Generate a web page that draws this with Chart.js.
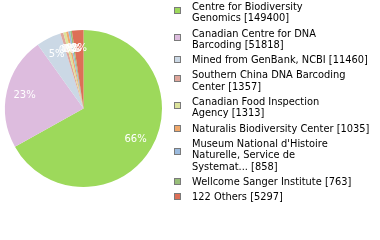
<!DOCTYPE html>
<html>
<head>
<meta charset="utf-8">
<script src="https://cdn.jsdelivr.net/npm/chart.js@4.4.1/dist/chart.umd.min.js"></script>
<style>
  html, body { margin: 0; padding: 0; background: #fff; }
  #wrap { position: relative; width: 380px; height: 240px; }
  #legend { position: absolute; left: 174px; top: 1px; margin: 0; padding: 0; list-style: none;
            font: 9.85px "DejaVu Sans", sans-serif; color: #000; }
  #legend li { display: flex; align-items: flex-start; margin-bottom: 4px; line-height: 11.3px; white-space: nowrap; }
  #legend .box { width: 7px; height: 7px; box-sizing: border-box; border: 1px solid #7a7a7a; margin-right: 11px; flex: none; }
</style>
</head>
<body>
<div id="wrap">
  <canvas id="pieChart" width="380" height="240"></canvas>
  <ul id="legend"></ul>
</div>
<script>
// legend text, already wrapped the way the picture shows it
const labels = [
    ['Centre for Biodiversity', 'Genomics'],
    ['Canadian Centre for DNA', 'Barcoding'],
    ['Mined from GenBank, NCBI'],
    ['Southern China DNA Barcoding', 'Center'],
    ['Canadian Food Inspection', 'Agency'],
    ['Naturalis Biodiversity Center'],
    ['Museum National d\'Histoire', 'Naturelle, Service de', 'Systemat...'],
    ['Wellcome Sanger Institute'],
    ['122 Others']
];
const counts = [149400, 51818, 11460, 1357, 1313, 1035, 858, 763, 5297];
const colors = ['#9dd95b', '#ddbcde', '#cbd8e5', '#dfa69b', '#dce39c', '#f0a86b', '#9bbadd', '#98be79', '#dd6f57'];

const total = counts.reduce((a, b) => a + b, 0);

// white percentage text inside each slice
const pctLabels = {
    id: 'pctLabels',
    afterDatasetsDraw(chart) {
        const ctx = chart.ctx;
        const meta = chart.getDatasetMeta(0);
        ctx.save();
        ctx.fillStyle = '#fff';
        ctx.font = '10px "DejaVu Sans", sans-serif';
        ctx.textAlign = 'center';
        ctx.textBaseline = 'middle';
        meta.data.forEach((arc, i) => {
            const p = arc.getProps(['x', 'y', 'startAngle', 'endAngle', 'outerRadius'], true);
            const mid = (p.startAngle + p.endAngle) / 2;
            const r = p.outerRadius * 0.77;
            const pct = Math.floor(counts[i] / total * 100);
            ctx.fillText(pct + '%', p.x + Math.cos(mid) * r, p.y + Math.sin(mid) * r);
        });
        ctx.restore();
    }
};

// legend built as html so the wrapped names can sit like the original
const htmlLegend = {
    id: 'htmlLegend',
    afterUpdate(chart) {
        const ul = document.getElementById('legend');
        ul.innerHTML = '';
        chart.data.labels.forEach((lines, i) => {
            const li = document.createElement('li');
            const box = document.createElement('span');
            box.className = 'box';
            box.style.background = colors[i];
            box.style.marginTop = (2 + (lines.length - 1) * 4) + 'px';
            const txt = document.createElement('span');
            const all = lines.slice();
            all[all.length - 1] += ' [' + counts[i] + ']';
            txt.innerHTML = all.join('<br>');
            li.appendChild(box);
            li.appendChild(txt);
            ul.appendChild(li);
        });
    }
};

new Chart(document.getElementById('pieChart'), {
    type: 'pie',
    data: {
        labels: labels,
        datasets: [{
            data: counts,
            backgroundColor: colors,
            borderWidth: 0
        }]
    },
    options: {
        responsive: false,
        animation: false,
        events: [],
        layout: {
            padding: { left: 5, right: 218, top: 30, bottom: 53 }
        },
        plugins: {
            legend: { display: false },
            tooltip: { enabled: false }
        }
    },
    plugins: [pctLabels, htmlLegend]
});
</script>
</body>
</html>
